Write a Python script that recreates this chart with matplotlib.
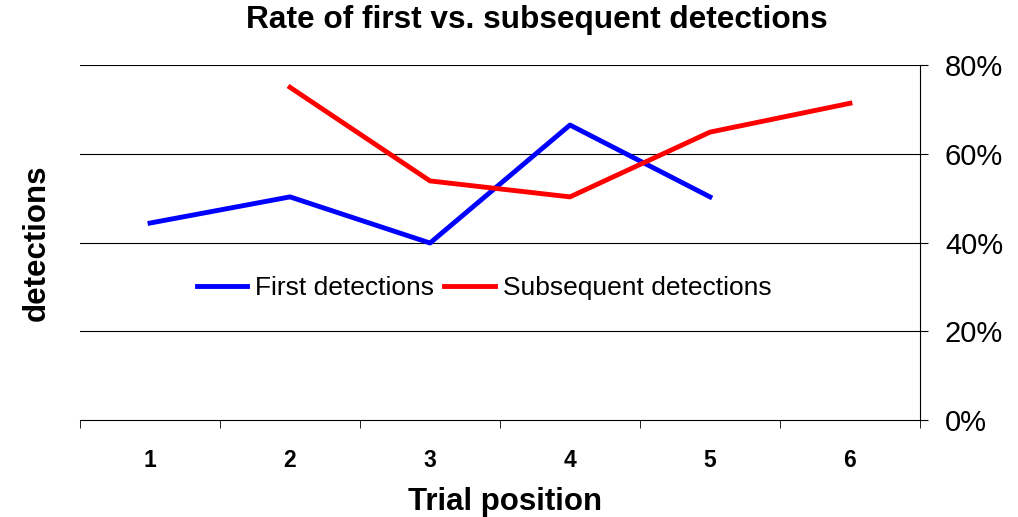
import numpy as np
import matplotlib.pyplot as plt
from matplotlib.ticker import PercentFormatter

plt.rcParams['font.family'] = ['Liberation Sans', 'DejaVu Sans']

positions = [1, 2, 3, 4, 5, 6]
first_x = [1, 2, 3, 4, 5]
first_rate = [44.4, 50.3, 39.9, 66.5, 50.3]
subs_x = [2, 3, 4, 5, 6]
subs_rate = [75.0, 53.9, 50.3, 64.9, 71.4]

fig = plt.figure(figsize=(10.18, 5.17), dpi=100)
ax = fig.add_axes([0.0786, 0.1876, 0.8251, 0.6864])

ax.plot(first_x, first_rate, color='#0000ff', lw=3.5, label='First detections')
ax.plot(subs_x, subs_rate, color='#ff0000', lw=3.5, label='Subsequent detections')

ax.set_xlim(0.5, 6.5)
ax.set_ylim(0, 80)
ax.yaxis.tick_right()
ax.set_yticks([0, 20, 40, 60, 80])
ax.yaxis.set_major_formatter(PercentFormatter(decimals=0))
ax.tick_params(axis='y', labelsize=21, length=6, direction='out', pad=12)
for y in [20, 40, 60, 80]:
    ax.axhline(y, color='black', lw=0.8, zorder=0)

ax.set_xticks(positions)
ax.set_xticklabels([str(p) for p in positions], fontweight='bold', fontsize=16.5)
ax.set_xticks(np.arange(0.5, 7, 1), minor=True)
ax.tick_params(axis='x', which='major', length=0, pad=21)
ax.tick_params(axis='x', which='minor', length=6, direction='out')

ax.spines['left'].set_visible(False)
ax.spines['top'].set_visible(False)
ax.spines['right'].set_linewidth(0.8)
ax.spines['bottom'].set_linewidth(0.8)

ax.set_xlabel('Trial position', fontsize=22.5, fontweight='bold', labelpad=12)
ax.xaxis.set_label_coords(0.506, -0.19)
fig.text(0.036, 0.53, 'detections', rotation=90, fontsize=22.5, fontweight='bold',
         ha='center', va='center')
fig.suptitle('Rate of first vs. subsequent detections', fontsize=22.8,
             fontweight='bold', x=0.527, y=0.99)

ax.legend(loc='center', bbox_to_anchor=(0.481, 0.372), ncol=2, frameon=False,
          fontsize=19, handlelength=1.9, columnspacing=0.4, handletextpad=0.3)

fig.savefig('out.png', dpi=100)
